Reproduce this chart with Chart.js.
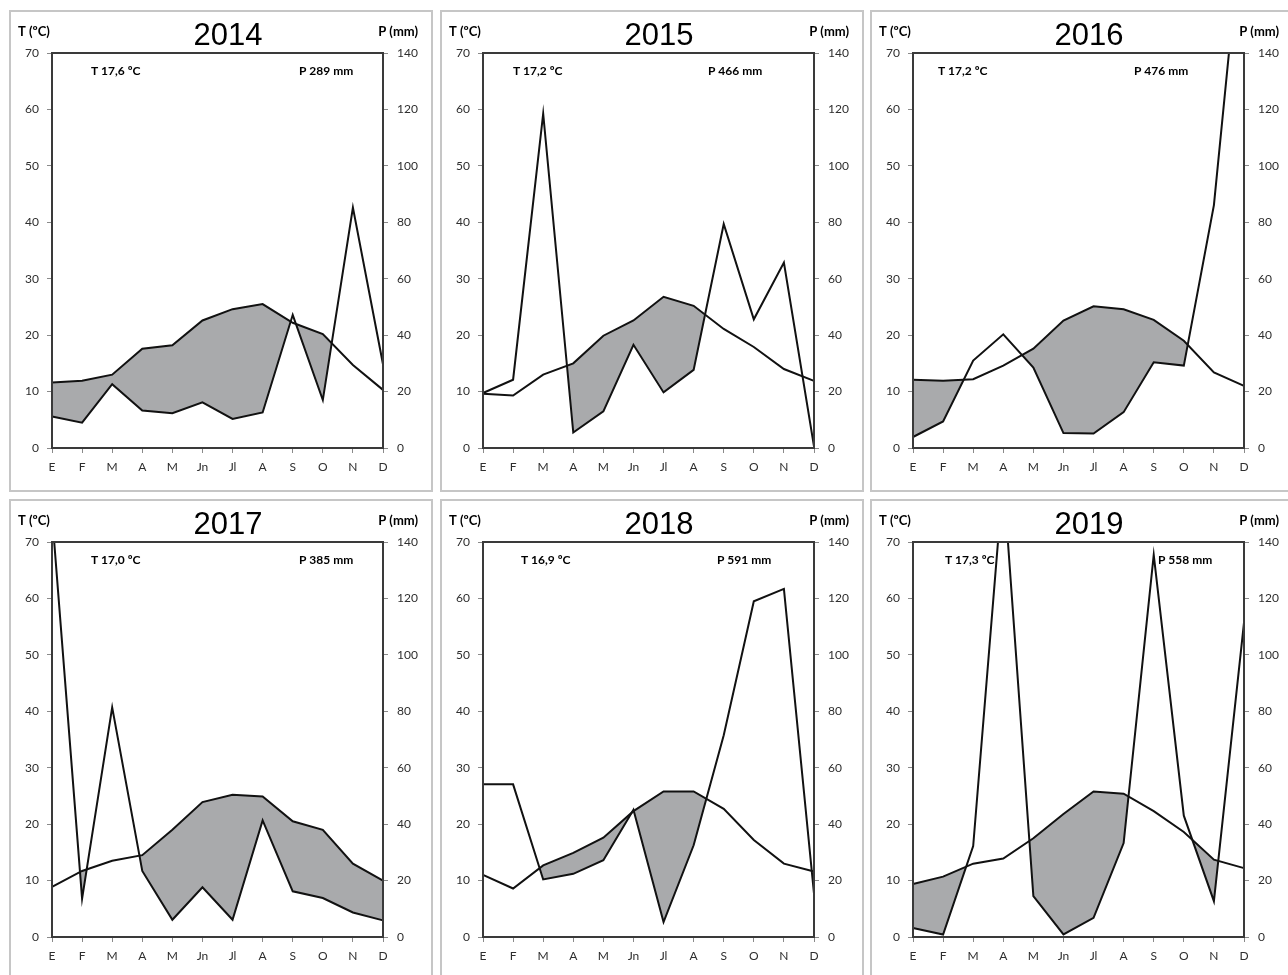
<!DOCTYPE html>
<html>
<head>
<meta charset="utf-8">
<title>Climogramas 2014-2019</title>
<script src="https://cdn.jsdelivr.net/npm/chart.js@4.4.1/dist/chart.umd.min.js"></script>
<style>
  html, body { margin: 0; padding: 0; background: #fff; overflow: hidden; }
  body { width: 1288px; height: 975px; position: relative; }
  canvas { position: absolute; }
</style>
</head>
<body>
<canvas id="c0" width="424" height="482" style="left:9px;top:10px"></canvas>
<canvas id="c1" width="424" height="482" style="left:440px;top:10px"></canvas>
<canvas id="c2" width="424" height="482" style="left:870px;top:10px"></canvas>
<canvas id="c3" width="424" height="482" style="left:9px;top:499px"></canvas>
<canvas id="c4" width="424" height="482" style="left:440px;top:499px"></canvas>
<canvas id="c5" width="424" height="482" style="left:870px;top:499px"></canvas>
<script>
var months = ['E', 'F', 'M', 'A', 'M', 'Jn', 'Jl', 'A', 'S', 'O', 'N', 'D'];
var years = ['2014', '2015', '2016', '2017', '2018', '2019'];
var meanTemp = ['17,6', '17,2', '17,2', '17,0', '16,9', '17,3'];
var totalPrec = ['289', '466', '476', '385', '591', '558'];

// monthly mean temperature (ºC)
var temp2014 = [11.6, 11.9, 13.0, 17.6, 18.2, 22.6, 24.6, 25.5, 22.2, 20.2, 14.7, 10.3];
var temp2015 = [9.6, 9.3, 13.0, 15.0, 19.9, 22.6, 26.8, 25.2, 21.1, 17.9, 14.0, 11.9];
var temp2016 = [12.1, 11.9, 12.2, 14.6, 17.6, 22.6, 25.1, 24.6, 22.7, 19.0, 13.4, 11.0];
var temp2017 = [8.9, 11.7, 13.5, 14.5, 19.0, 23.9, 25.2, 24.9, 20.5, 19.0, 13.0, 10.0];
var temp2018 = [11.0, 8.6, 12.7, 14.9, 17.6, 22.3, 25.8, 25.8, 22.7, 17.2, 13.0, 11.6];
var temp2019 = [9.4, 10.7, 13.0, 13.9, 17.5, 21.8, 25.8, 25.4, 22.3, 18.6, 13.7, 12.2];

// monthly precipitation (mm)
var prec2014 = [11.2, 9.0, 22.6, 13.3, 12.3, 16.2, 10.3, 12.6, 47.2, 17.0, 85.2, 29.7];
var prec2015 = [19.5, 24.2, 118.5, 5.5, 13.0, 36.6, 19.7, 27.7, 79.4, 45.6, 65.7, 0.6];
var prec2016 = [3.9, 9.4, 31.0, 40.3, 28.5, 5.3, 5.1, 12.7, 30.4, 29.2, 86.1, 194];
var prec2017 = [150, 13.6, 81.4, 23.4, 6.1, 17.6, 6.1, 41.3, 16.2, 13.8, 8.7, 5.9];
var prec2018 = [54.1, 54.1, 20.4, 22.4, 27.2, 45.1, 5.3, 32.5, 71.5, 119.0, 123.4, 15.4];
var prec2019 = [3.2, 0.9, 32.2, 163, 14.5, 0.9, 6.8, 33.3, 135.4, 43.0, 12.7, 111.4];

// years whose last (November-December) stretch is left unshaded
var openDecember = [false, true, false, false, true, false];

var temps = [temp2014, temp2015, temp2016, temp2017, temp2018, temp2019];
var precs = [prec2014, prec2015, prec2016, prec2017, prec2018, prec2019];

// x offset of the "T" and "P" notes from the plot's left edge
var notePos = [[39, 247], [30, 225], [25, 221], [39, 247], [38, 234], [32, 245]];

var tickFont = { family: 'Lato, "Open Sans", sans-serif', size: 12 };
var tickColor = '#2e2e2e';
var markColor = '#8a8a8a';

// panel frame, plot box and the texts around it
var panelText = {
  id: 'panelText',
  beforeDraw: function (chart) {
    var ctx = chart.ctx;
    ctx.save();
    ctx.strokeStyle = '#c6c6c6';
    ctx.lineWidth = 2;
    ctx.strokeRect(1, 1, chart.width - 2, chart.height - 2);
    ctx.restore();
  },
  afterDatasetsDraw: function (chart, args, opts) {
    var ctx = chart.ctx, a = chart.chartArea;
    ctx.save();
    ctx.strokeStyle = '#3a3a3a';
    ctx.lineWidth = 2;
    ctx.strokeRect(a.left, a.top, a.right - a.left, a.bottom - a.top);

    ctx.fillStyle = '#000';
    ctx.font = '31px "Liberation Sans", Arial, sans-serif';
    ctx.textAlign = 'center';
    ctx.textBaseline = 'alphabetic';
    ctx.fillText(opts.year, 219, 35);

    ctx.font = 'bold 13px Lato, "Open Sans", sans-serif';
    ctx.textAlign = 'left';
    ctx.fillText('T (ºC)', 9, 26);
    ctx.textAlign = 'right';
    ctx.fillText('P (mm)', 409, 26);

    ctx.font = 'bold 12px Lato, "Open Sans", sans-serif';
    ctx.textAlign = 'left';
    ctx.textBaseline = 'middle';
    ctx.fillText('T ' + opts.temp + ' ºC', a.left + opts.tx, a.top + 18);
    ctx.fillText('P ' + opts.prec + ' mm', a.left + opts.px, a.top + 18);
    ctx.restore();
  }
};

function makeChart(i) {
  // temperature copy used only as the edge of the dry-season shading
  var shadeEdge = temps[i].slice();
  if (openDecember[i]) shadeEdge[11] = null;

  new Chart(document.getElementById('c' + i), {
    type: 'line',
    data: {
      labels: months,
      datasets: [
        {
          label: 'T',
          data: temps[i],
          yAxisID: 'y',
          borderColor: '#111',
          borderWidth: 2,
          pointRadius: 0,
          tension: 0,
          fill: false
        },
        {
          label: 'P',
          data: precs[i],
          yAxisID: 'y1',
          borderColor: '#111',
          borderWidth: 2,
          pointRadius: 0,
          tension: 0,
          fill: false
        },
        {
          label: 'seco',
          data: shadeEdge,
          yAxisID: 'y',
          borderWidth: 0,
          borderColor: 'rgba(0,0,0,0)',
          pointRadius: 0,
          tension: 0,
          spanGaps: false,
          // dry months: temperature above P/2
          fill: { target: 1, above: '#a9aaac', below: 'rgba(0,0,0,0)' }
        }
      ]
    },
    options: {
      responsive: false,
      animation: false,
      layout: { padding: { top: 43, left: 0, right: 0, bottom: 0 } },
      plugins: {
        legend: { display: false },
        tooltip: { enabled: false },
        filler: { drawTime: 'beforeDatasetsDraw' },
        panelText: {
          year: years[i],
          temp: meanTemp[i],
          prec: totalPrec[i],
          tx: notePos[i][0],
          px: notePos[i][1]
        }
      },
      scales: {
        x: {
          offset: false,
          grid: { drawOnChartArea: false, tickLength: 5, color: markColor },
          border: { display: false },
          ticks: { font: tickFont, color: tickColor, padding: 7, maxRotation: 0, autoSkip: false },
          afterFit: function (s) { s.height = 44; }
        },
        y: {
          position: 'left',
          min: 0,
          max: 70,
          grid: { drawOnChartArea: false, tickLength: 5, color: markColor },
          border: { display: false },
          ticks: { stepSize: 10, font: tickFont, color: tickColor, padding: 8 },
          afterFit: function (s) { s.width = 43; }
        },
        y1: {
          position: 'right',
          min: 0,
          max: 140,
          grid: { drawOnChartArea: false, tickLength: 5, color: markColor },
          border: { display: false },
          ticks: { stepSize: 20, font: tickFont, color: tickColor, padding: 9 },
          afterFit: function (s) { s.width = 50; }
        }
      }
    },
    plugins: [panelText]
  });
}

for (var i = 0; i < years.length; i++) {
  makeChart(i);
}
</script>
</body>
</html>
